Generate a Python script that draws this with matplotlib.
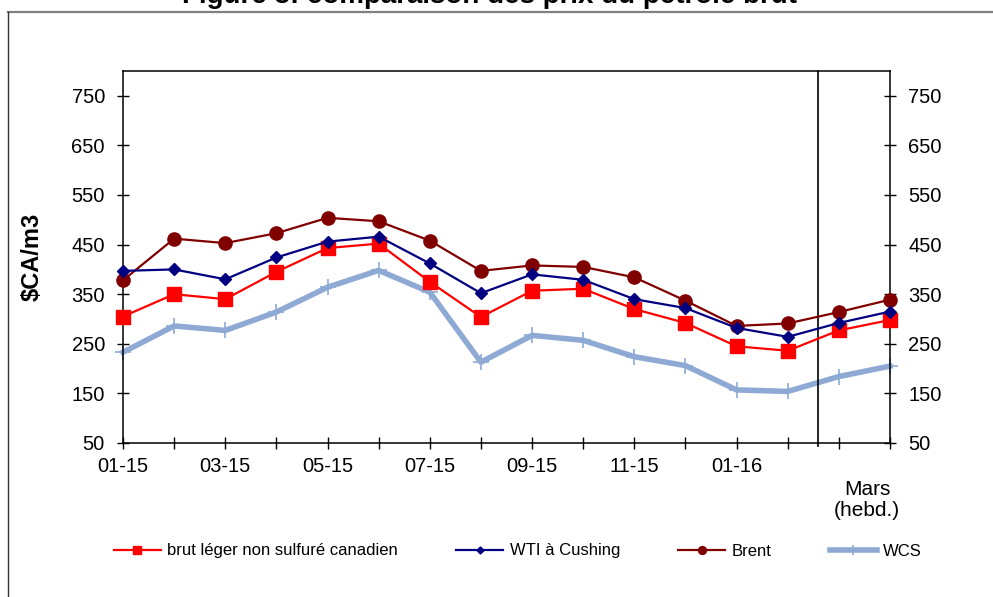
import numpy as np
import matplotlib
matplotlib.use("Agg")
import matplotlib.pyplot as plt
from matplotlib.lines import Line2D

plt.rcParams['font.family'] = ['Liberation Sans', 'DejaVu Sans']

# ---- data ----
periods = ["01-15", "02-15", "03-15", "04-15", "05-15", "06-15", "07-15", "08-15",
           "09-15", "10-15", "11-15", "12-15", "01-16", "02-16", "Mars s1", "Mars s2"]
shown_labels = ["01-15", "", "03-15", "", "05-15", "", "07-15", "",
                "09-15", "", "11-15", "", "01-16", "", "", ""]
leger = [305, 350, 340, 395, 443, 452, 375, 304, 357, 361, 320, 292, 245, 236, 277, 298]
wti = [397, 400, 380, 424, 456, 466, 412, 352, 390, 379, 340, 322, 282, 264, 292, 315]
brent = [378, 462, 453, 473, 504, 497, 458, 397, 408, 405, 384, 337, 286, 291, 314, 339]
wcs = [233, 286, 277, 314, 364, 398, 354, 213, 267, 257, 224, 206, 157, 154, 184, 205]
yticks = [50, 150, 250, 350, 450, 550, 650, 750]

title = "Figure 3: comparaison des prix du pétrole brut"
names = ["brut léger non sulfuré canadien", "WTI à Cushing", "Brent", "WCS"]

fig = plt.figure(figsize=(9.93, 5.97), dpi=100)
ax = fig.add_axes([123 / 993, 1 - 443 / 597, 767 / 993, 372 / 597])

xs = np.arange(len(periods))

h1, = ax.plot(xs, leger, '-s', color='#ff0000', lw=1.6, ms=10, label=names[0], clip_on=False, zorder=4)
h2, = ax.plot(xs, wti, '-D', color='#000080', lw=1.6, ms=6, label=names[1], clip_on=False, zorder=5)
h3, = ax.plot(xs, brent, '-o', color='#800000', lw=1.6, ms=9.5, label=names[2], clip_on=False, zorder=3)
h4, = ax.plot(xs, wcs, '-+', color='#8eaad4', lw=4, ms=12, mew=1.2, label=names[3], clip_on=False, zorder=2)

# separator between monthly and weekly data
ax.axvline(13.6, ymin=-0.008, ymax=1, color='black', lw=1.2, clip_on=False)

ax.set_xlim(0, 15)
ax.set_ylim(50, 800)
ax.set_yticks(yticks)
ax.set_xticks(xs)
ax.set_xticklabels(shown_labels)
ax.tick_params(axis='both', direction='inout', length=8, width=1, labelsize=14.5)
ax.tick_params(axis='y', pad=9, right=True, labelright=True)
ax.tick_params(axis='x', pad=6)
for sp in ax.spines.values():
    sp.set_linewidth(1.1)

ax.text(14.55, -0.1, "Mars\n(hebd.)", transform=ax.get_xaxis_transform(),
        ha='center', va='top', fontsize=15, linespacing=1.1)

ax.set_ylabel("$CA/m3", fontsize=17, fontweight='bold', labelpad=20)

# legend
fig.legend([h1, h2, h3, h4], names, loc='center', bbox_to_anchor=(518 / 993, 1 - 551 / 597),
           ncol=4, frameon=False, fontsize=12, handlelength=2.8, handletextpad=0.4,
           columnspacing=3.5, markerscale=0.6)

# clipped title and frame
fig.text(490 / 993, 1 - 3 / 597, title, ha='center', va='baseline', fontsize=20, fontweight='bold')
fig.add_artist(Line2D([8 / 993, 1], [1 - 12 / 597, 1 - 12 / 597], color='#808080', lw=1.6))
fig.add_artist(Line2D([8 / 993, 8 / 993], [0, 1 - 12 / 597], color='#333333', lw=1.0))

fig.savefig("out.png", dpi=100)
